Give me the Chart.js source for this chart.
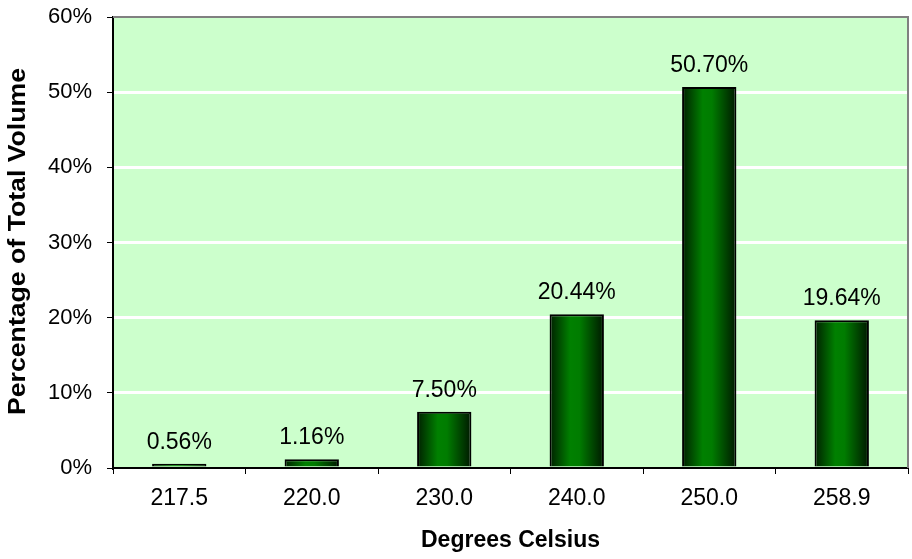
<!DOCTYPE html>
<html>
<head>
<meta charset="utf-8">
<script src="https://cdn.jsdelivr.net/npm/chart.js@4"></script>
<style>
  html, body { margin: 0; padding: 0; background: #ffffff; }
  #wrap { width: 912px; height: 559px; }
</style>
</head>
<body>
<div id="wrap"><canvas id="volumeChart" width="912" height="559"></canvas></div>
<script>
// data
const categories = ['217.5', '220.0', '230.0', '240.0', '250.0', '258.9'];
const percentValues = [0.56, 1.16, 7.50, 20.44, 50.70, 19.64];
const yTicks = [0, 10, 20, 30, 40, 50, 60];
const yTitle = 'Percentage of Total Volume';
const xTitle = 'Degrees Celsius';

const fontFamily = '"Liberation Sans", Arial, sans-serif';
const barPct = 0.41;

// plot background and frame
const plotFrame = {
    id: 'plotFrame',
    beforeDraw(chart) {
        const { ctx, chartArea: a } = chart;
        ctx.save();
        ctx.fillStyle = '#ccffcc';
        ctx.fillRect(a.left, a.top, a.right - a.left, a.bottom - a.top);
        ctx.restore();
    },
    afterDatasetsDraw(chart) {
        const { ctx, chartArea: a } = chart;
        ctx.save();
        ctx.strokeStyle = '#808080';
        ctx.lineWidth = 2;
        ctx.beginPath();
        ctx.moveTo(a.left, a.top);
        ctx.lineTo(a.right, a.top);
        ctx.lineTo(a.right, a.bottom);
        ctx.stroke();
        ctx.restore();
    }
};

// the y title in the original runs a bit longer than plain bold text, stretch it
const stretchedYTitle = {
    id: 'stretchedYTitle',
    afterDraw(chart) {
        const { ctx, chartArea: a } = chart;
        ctx.save();
        ctx.font = 'bold 23px ' + fontFamily;
        const natural = ctx.measureText(yTitle).width;
        const cy = (a.top + a.bottom) / 2 - 1;
        ctx.translate(25, cy);
        ctx.rotate(-Math.PI / 2);
        ctx.scale(347 / natural, 1);
        ctx.fillStyle = '#000000';
        ctx.textAlign = 'center';
        ctx.textBaseline = 'alphabetic';
        ctx.fillText(yTitle, 0, 0);
        ctx.restore();
    }
};

// horizontal dark-green-dark shading, one gradient per bar
function barGradient(c) {
    const chart = c.chart;
    const xs = chart.scales.x;
    if (!chart.chartArea || !xs || c.dataIndex === undefined) return '#008000';
    const center = xs.getPixelForValue(c.dataIndex);
    const w = (xs.width / categories.length) * barPct;
    const left = center - w / 2;
    const g = chart.ctx.createLinearGradient(left, 0, left + w, 0);
    g.addColorStop(0, '#001f00');
    g.addColorStop(0.38, '#008000');
    g.addColorStop(0.55, '#007c00');
    g.addColorStop(1, '#001800');
    return g;
}

// value labels above the bars
const valueLabels = {
    id: 'valueLabels',
    afterDatasetsDraw(chart) {
        const { ctx } = chart;
        ctx.save();
        ctx.font = '23px ' + fontFamily;
        ctx.fillStyle = '#000000';
        ctx.textAlign = 'center';
        ctx.textBaseline = 'alphabetic';
        chart.getDatasetMeta(0).data.forEach(function(bar, i) {
            ctx.fillText(percentValues[i].toFixed(2) + '%', bar.x, bar.y - 15);
        });
        ctx.restore();
    }
};

const ctx = document.getElementById('volumeChart').getContext('2d');
new Chart(ctx, {
    type: 'bar',
    data: {
        labels: categories,
        datasets: [{
            data: percentValues,
            backgroundColor: barGradient,
            borderColor: '#000000',
            borderWidth: 2,
            barPercentage: barPct,
            categoryPercentage: 1.0
        }]
    },
    options: {
        responsive: false,
        animation: false,
        layout: { padding: { top: 17, right: 4, left: 0, bottom: 0 } },
        plugins: {
            legend: { display: false },
            tooltip: { enabled: false }
        },
        scales: {
            x: {
                grid: {
                    offset: true,
                    drawOnChartArea: false,
                    drawTicks: true,
                    tickLength: 6,
                    tickColor: '#000000',
                    tickWidth: 1
                },
                border: { color: '#000000', width: 2 },
                ticks: {
                    color: '#000000',
                    font: { family: fontFamily, size: 23 },
                    padding: 11,
                    maxRotation: 0
                },
                title: {
                    display: true,
                    text: xTitle,
                    color: '#000000',
                    font: { family: fontFamily, size: 23, weight: 'bold' },
                    padding: { top: 0, bottom: 5 }
                },
                afterFit(scale) {
                    scale.height = 91;
                    scale.paddingLeft = 0;
                    scale.paddingRight = 0;
                }
            },
            y: {
                min: 0,
                max: 60,
                afterBuildTicks(scale) {
                    scale.ticks = yTicks.map(v => ({ value: v }));
                },
                grid: {
                    color: c => (c.tick && (c.tick.value === 0 || c.tick.value === 60)) ? 'rgba(0,0,0,0)' : '#ffffff',
                    lineWidth: 3,
                    drawTicks: true,
                    tickLength: 6,
                    tickColor: '#000000',
                    tickWidth: 1
                },
                border: { color: '#000000', width: 2 },
                ticks: {
                    color: '#000000',
                    font: { family: fontFamily, size: 22 },
                    padding: 15,
                    callback: v => v + '%'
                },
                title: { display: false },
                afterFit(scale) {
                    scale.width = 113;
                    scale.paddingTop = 0;
                    scale.paddingBottom = 0;
                }
            }
        }
    },
    plugins: [plotFrame, valueLabels, stretchedYTitle]
});
</script>
</body>
</html>
